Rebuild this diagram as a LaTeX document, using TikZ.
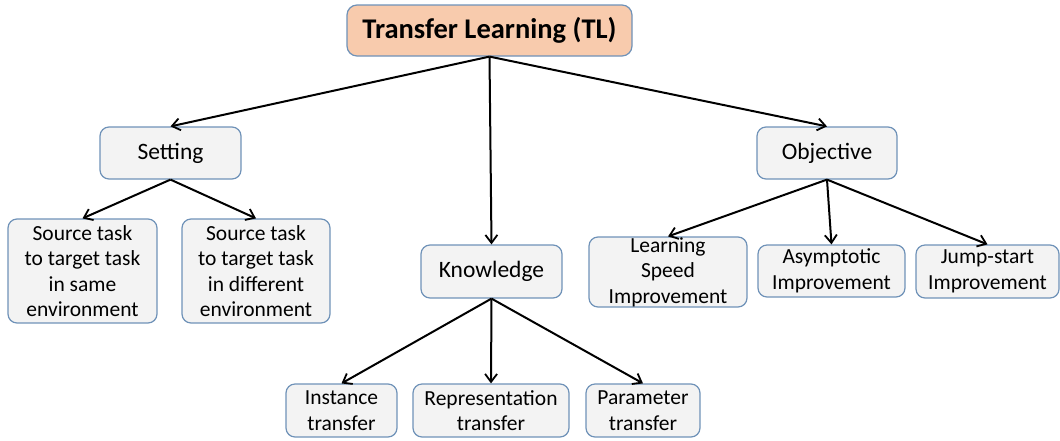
\documentclass[tikz,border=0pt]{standalone}
\usepackage{fontspec}
\setmainfont{Carlito}
\usetikzlibrary{arrows.meta}
\definecolor{boxfill}{HTML}{F3F3F3}
\definecolor{boxline}{HTML}{6F92B8}
\definecolor{rootfill}{HTML}{F8CBAD}
\tikzset{
  item/.style={draw=boxline, line width=1.2pt, fill=boxfill, rounded corners=9pt,
    inner sep=0pt, align=center, font=\fontsize{21.5}{25.5}\selectfont},
  group/.style={item, font=\fontsize{23.5}{28}\selectfont},
  root/.style={item, fill=rootfill, rounded corners=10pt,
    font=\fontsize{28.5}{32}\selectfont\bfseries},
  link/.style={draw=black, line width=2pt,
    -{Straight Barb[length=8pt,width=12pt,line width=1.8pt]}}
}
\begin{document}
\begin{tikzpicture}[x=1pt,y=-1pt]
\useasboundingbox (0,0) rectangle (1060,440);
% root
\node[root, minimum width=285pt, minimum height=51pt] (tl) at (489.5,30.5) {Transfer Learning (TL)};
% second level
\node[group, minimum width=141pt, minimum height=52pt] (set) at (170.5,153) {Setting};
\node[group, minimum width=141pt, minimum height=53pt] (know) at (491.5,271.5) {Knowledge};
\node[group, minimum width=140pt, minimum height=52pt] (obj) at (827,153) {Objective};
% setting branch
\node[item, minimum width=149pt, minimum height=104pt] (same) at (82.5,271) {Source task\\to target task\\in same\\environment};
\node[item, minimum width=148pt, minimum height=104pt] (diff) at (256,271) {Source task\\to target task\\in different\\environment};
% knowledge branch
\node[item, minimum width=111pt, minimum height=53pt] (inst) at (341.5,410.5) {Instance\\transfer};
\node[item, minimum width=156pt, minimum height=53pt] (repr) at (491,410.5) {Representation\\transfer};
\node[item, minimum width=114pt, minimum height=53pt] (param) at (643,410.5) {Parameter\\transfer};
% objective branch
\node[item, minimum width=158pt, minimum height=70pt] (speed) at (668,272) {Learning\\Speed\\Improvement};
\node[item, minimum width=147pt, minimum height=52pt] (asym) at (831.5,271) {Asymptotic\\Improvement};
\node[item, minimum width=143pt, minimum height=53pt] (jump) at (987.5,271.5) {Jump-start\\Improvement};
% connectors
\draw[link] (tl.south) -- (set.north);
\draw[link] (tl.south) -- (know.north);
\draw[link] (tl.south) -- (obj.north);
\draw[link] (set.south) -- (same.north);
\draw[link] (set.south) -- (diff.north);
\draw[link] (know.south) -- (inst.north);
\draw[link] (know.south) -- (repr.north);
\draw[link] (know.south) -- (param.north);
\draw[link] (obj.south) -- (speed.north);
\draw[link] (obj.south) -- (asym.north);
\draw[link] (obj.south) -- (jump.north);
\end{tikzpicture}
\end{document}
